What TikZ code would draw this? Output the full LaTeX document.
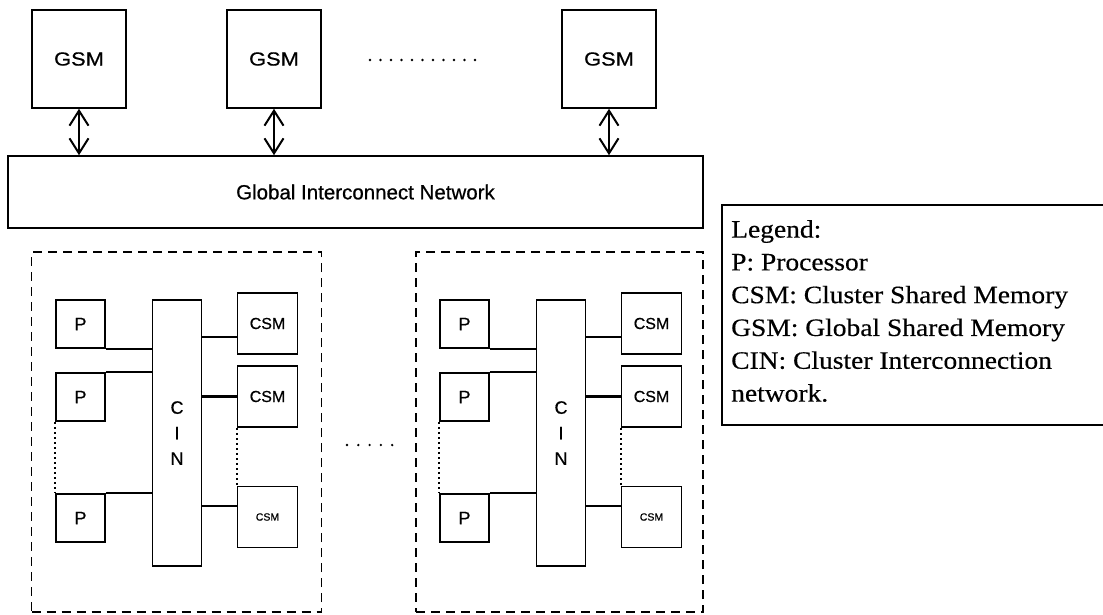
\documentclass[tikz,border=0pt]{standalone}
\usepackage{fontspec}
\setmainfont{Liberation Serif}
\newfontfamily\boxfont[FakeBold=0.6]{Liberation Sans}
\newfontfamily\widebox[FakeStretch=1.15,FakeBold=0.6]{Liberation Sans}
\newfontfamily\legendfont[FakeStretch=1.1,FakeBold=0.4]{Liberation Serif}
\usetikzlibrary{arrows.meta}

\tikzset{
  unit/.style={draw, line width=1.6pt, inner sep=0pt, font=\boxfont\fontsize{18}{21}\selectfont},
  gsmbox/.style={unit, minimum width=94pt, minimum height=98pt, font=\widebox\fontsize{19}{22}\selectfont},
  procbox/.style={unit, minimum width=49pt, minimum height=48pt},
  cinbox/.style={unit, minimum width=49pt, minimum height=266pt, align=center,
    font=\boxfont\fontsize{18}{25.5}\selectfont},
  csmbox/.style={unit, minimum width=60pt, minimum height=61pt, font=\boxfont\fontsize{16}{19}\selectfont},
  csmsmall/.style={csmbox, font=\boxfont\fontsize{10.5}{12}\selectfont},
  cluster/.style={draw, line width=1.4pt, dash pattern=on 9pt off 6pt},
  link/.style={line width=2.3pt},
  dotline/.style={line width=1.9pt, dash pattern=on 1.8pt off 3.2pt},
  bus/.style={line width=1.8pt, {Straight Barb[length=15pt,width=19pt,line width=2pt]}-{Straight Barb[length=15pt,width=19pt,line width=2pt]}},
  dot/.style={fill, circle, inner sep=0pt, minimum size=2.6pt},
}

\begin{document}
\begin{tikzpicture}[x=1pt, y=-1pt]
\useasboundingbox (0,0) rectangle (1103,614);

% global shared memories
\node[gsmbox] (gsm1) at (79,59)  {GSM};
\node[gsmbox] (gsm2) at (274,59) {GSM};
\node[gsmbox] (gsm3) at (609,59) {GSM};
\foreach \k in {0,...,10}
  \node[dot] (gdot\k) at (370+10.5*\k,60) {};

% global interconnect network
\node[unit, minimum width=695pt, minimum height=72pt, font=\boxfont\fontsize{20.5}{24}\selectfont]
  (gin) at (355.5,192) {\hspace{20pt}Global Interconnect Network};

\foreach \g in {gsm1,gsm2,gsm3}
  \draw[bus] (\g.south) -- (\g.south |- gin.north);

% two clusters, each with processors, a CIN and cluster shared memories
\foreach \c/\dx/\left/\right in {a/0/31.5/321.5, b/384/416/703} {
  \begin{scope}[xshift=\dx pt]
    \node[cluster, minimum width=\right-\left, minimum height=360pt, inner sep=0pt]
      (box\c) at ({(\left+\right)/2-\dx},432) {};
    \node[procbox] (p1\c) at (80.5,324) {P};
    \node[procbox] (p2\c) at (80.5,397) {P};
    \node[procbox] (p3\c) at (80.5,518) {P};
    \node[cinbox]  (cin\c) at (177,433) {C\\I\\N};
    \node[csmbox]   (m1\c) at (267.5,323.5) {CSM};
    \node[csmbox]   (m2\c) at (267.5,396.5) {CSM};
    \node[csmsmall] (m3\c) at (267.5,517) {CSM};

    \draw[link] (p1\c.south east) -- (p1\c.south east -| cin\c.west);
    \draw[link] (p2\c.north east) -- (p2\c.north east -| cin\c.west);
    \draw[link] (p3\c.north east) -- (p3\c.north east -| cin\c.west);
    \draw[link] (cin\c.east |- 0,337) -- (m1\c.west |- 0,337);
    \draw[link] (cin\c.east |- m2\c.west) -- (m2\c.west);
    \draw[link] (cin\c.east |- 0,506) -- (m3\c.west |- 0,506);

    \draw[dotline] (p2\c.south west) -- (p3\c.north west);
    \draw[dotline] (m2\c.south west) -- (m3\c.north west);
  \end{scope}
}

\foreach \k in {0,...,4}
  \node[dot] (cdot\k) at (347+11.3*\k,445) {};

% legend
\draw[line width=1.8pt] (1106,205) -- (722,205) -- (722,425) -- (1106,425);
\node[anchor=north west, inner sep=0pt, align=left,
      font=\legendfont\fontsize{25}{32.8}\selectfont] (legend) at (731,220)
  {Legend:\\P: Processor\\CSM: Cluster Shared Memory\\GSM: Global Shared Memory\\CIN: Cluster Interconnection\\network.};
\end{tikzpicture}
\end{document}
